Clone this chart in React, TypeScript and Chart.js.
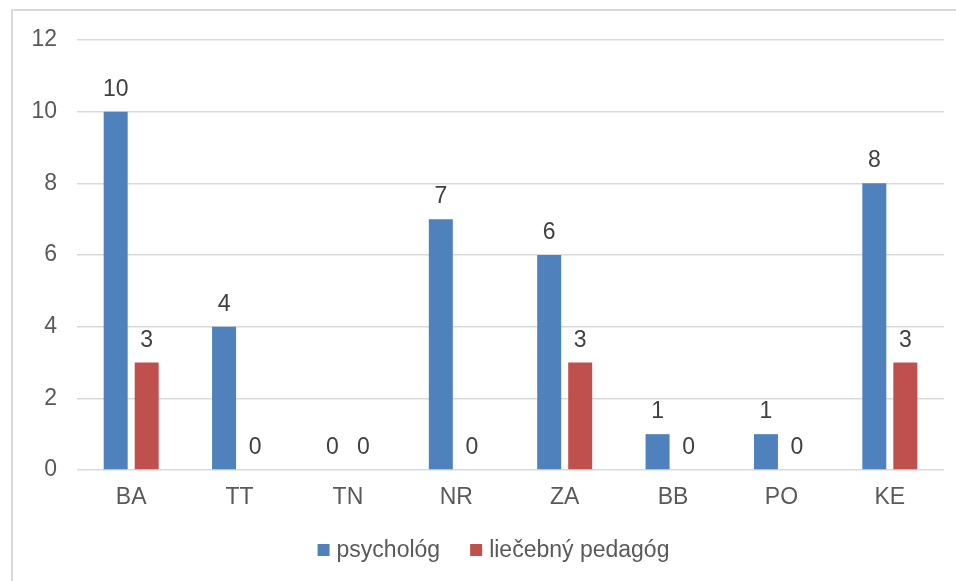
import React, { useEffect, useRef } from "react";
import { Chart, registerables } from "chart.js";

Chart.register(...registerables);

const categories = ["BA", "TT", "TN", "NR", "ZA", "BB", "PO", "KE"];
const psychologValues = [10, 4, 0, 7, 6, 1, 1, 8];
const pedagogValues = [3, 0, 0, 0, 3, 0, 0, 3];
const seriesLabels = ["psychológ", "liečebný pedagóg"];
const seriesColors = ["#4F81BD", "#C0504D"];
const yTicks = [0, 2, 4, 6, 8, 10, 12];

const FONT = "'Liberation Sans', Arial, sans-serif";
const FONT_SIZE = 23;

const framePlugin = {
  id: "frame",
  beforeDraw(chart: any) {
    const ctx = chart.ctx;
    ctx.save();
    ctx.fillStyle = "#ffffff";
    ctx.fillRect(0, 0, chart.width, chart.height);
    ctx.strokeStyle = "#d9d9d9";
    ctx.lineWidth = 2;
    ctx.beginPath();
    ctx.moveTo(12, chart.height);
    ctx.lineTo(12, 10);
    ctx.lineTo(chart.width, 10);
    ctx.stroke();
    ctx.restore();
  },
};

const dataLabelPlugin = {
  id: "dataLabels",
  afterDatasetsDraw(chart: any) {
    const ctx = chart.ctx;
    ctx.save();
    ctx.font = `${FONT_SIZE}px ${FONT}`;
    ctx.fillStyle = "#404040";
    ctx.textAlign = "center";
    ctx.textBaseline = "alphabetic";
    chart.data.datasets.forEach((ds: any, i: number) => {
      const meta = chart.getDatasetMeta(i);
      meta.data.forEach((el: any, j: number) => {
        ctx.fillText(String(ds.data[j]), el.x, el.y - 16);
      });
    });
    ctx.restore();
  },
};

const legendPlugin = {
  id: "customLegend",
  afterDraw(chart: any) {
    const ctx = chart.ctx;
    ctx.save();
    ctx.font = `${FONT_SIZE}px ${FONT}`;
    const box = 12;
    const gapBoxText = 7;
    const gapItems = 30;
    const items = chart.data.datasets.map((ds: any) => ({
      label: ds.label,
      color: ds.backgroundColor,
      w: ctx.measureText(ds.label).width,
    }));
    let total = 0;
    items.forEach((it: any, i: number) => {
      total += box + gapBoxText + it.w + (i < items.length - 1 ? gapItems : 0);
    });
    const cx = (chart.chartArea.left + chart.chartArea.right) / 2 - 17;
    const cy = 551;
    let x = cx - total / 2;
    ctx.textBaseline = "middle";
    ctx.textAlign = "left";
    items.forEach((it: any) => {
      ctx.fillStyle = it.color;
      ctx.fillRect(x, cy - box / 2 - 1, box, box);
      x += box + gapBoxText;
      ctx.fillStyle = "#595959";
      ctx.fillText(it.label, x, cy);
      x += it.w + gapItems;
    });
    ctx.restore();
  },
};

export default function App() {
  const canvasRef = useRef<HTMLCanvasElement | null>(null);

  useEffect(() => {
    if (!canvasRef.current) return;
    const chart = new Chart(canvasRef.current, {
      type: "bar",
      data: {
        labels: categories,
        datasets: [
          {
            label: seriesLabels[0],
            data: psychologValues,
            backgroundColor: seriesColors[0],
            categoryPercentage: 0.572,
            barPercentage: 0.774,
          },
          {
            label: seriesLabels[1],
            data: pedagogValues,
            backgroundColor: seriesColors[1],
            categoryPercentage: 0.572,
            barPercentage: 0.774,
          },
        ],
      },
      options: {
        responsive: false,
        animation: false,
        layout: { padding: { left: 0, top: 40, right: 12, bottom: 0 } },
        plugins: {
          legend: { display: false },
          tooltip: { enabled: false },
        },
        scales: {
          x: {
            grid: { display: false, drawTicks: false },
            border: { display: false },
            ticks: {
              color: "#595959",
              font: { family: FONT, size: FONT_SIZE },
              padding: 14,
            },
            afterFit(scale: any) {
              scale.height = 111;
            },
          },
          y: {
            min: 0,
            max: 12,
            afterBuildTicks(scale: any) {
              scale.ticks = yTicks.map((v) => ({ value: v }));
            },
            grid: { color: "#d9d9d9", lineWidth: 1.5, drawTicks: false },
            border: { display: false },
            ticks: {
              color: "#595959",
              font: { family: FONT, size: FONT_SIZE },
              padding: 20,
            },
            afterFit(scale: any) {
              scale.width = 77;
            },
          },
        },
      },
      plugins: [framePlugin, dataLabelPlugin, legendPlugin],
    });
    return () => chart.destroy();
  }, []);

  return (
    <div style={{ position: "absolute", left: 0, top: 0, width: 956, height: 581 }}>
      <canvas ref={canvasRef} width={956} height={581} style={{ display: "block" }} />
    </div>
  );
}
